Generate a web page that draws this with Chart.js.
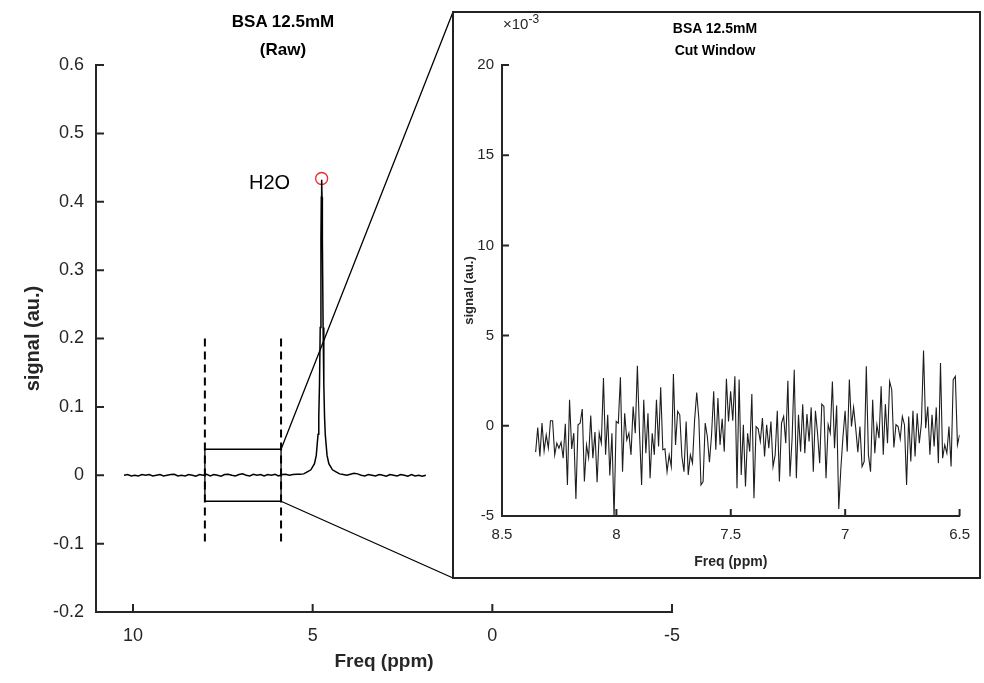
<!DOCTYPE html>
<html lang="en">
<head>
<meta charset="UTF-8">
<title>BSA 12.5mM - Raw and Cut Window</title>
<script src="https://cdn.jsdelivr.net/npm/chart.js"></script>
<style>
  body { margin: 0; background: #fff; font-family: 'Liberation Sans', Arial, sans-serif; color: #000; }
  #wrap { position: relative; width: 984px; height: 683px; overflow: hidden; }
  canvas { position: absolute; }
  #mainChart { left: 0; top: 0; }
  .label { position: absolute; white-space: nowrap; }
  #mainTitle { left: 183px; top: 8px; width: 200px; text-align: center; font-weight: bold; font-size: 17px; line-height: 28px; }
  #h2o { left: 249px; top: 171px; font-size: 20px; }
  #insetFrame { position: absolute; left: 452px; top: 11px; width: 529px; height: 568px; box-sizing: border-box; border: 2px solid #222; background: #fff; }
  #insetChart { left: 453px; top: 12px; }
  #insetTitle { left: 615px; top: 17px; width: 200px; text-align: center; font-weight: bold; font-size: 14px; line-height: 22px; }
  #scaleNote { left: 503px; top: 12px; font-size: 15px; color: #262626; }
  #scaleNote sup { font-size: 12px; }
</style>
</head>
<body>
<div id="wrap">
  <canvas id="mainChart" width="984" height="683"></canvas>
  <div class="label" id="mainTitle">BSA 12.5mM<br>(Raw)</div>
  <div class="label" id="h2o">H2O</div>
  <div id="insetFrame"></div>
  <canvas id="insetChart" width="527" height="566"></canvas>
  <div class="label" id="insetTitle">BSA 12.5mM<br>Cut Window</div>
  <div class="label" id="scaleNote">&times;10<sup>-3</sup></div>
</div>

<script>
// ---- raw spectrum (ppm, au.) ----
const mainPpm = [
  10.25, 10.15, 10.05, 9.95, 9.85, 9.75, 9.65, 9.55, 9.45, 9.35,
  9.25, 9.15, 9.05, 8.95, 8.85, 8.75, 8.65, 8.55, 8.45, 8.35,
  8.25, 8.15, 8.05, 7.95, 7.85, 7.75, 7.65, 7.55, 7.45, 7.35,
  7.25, 7.15, 7.05, 6.95, 6.85, 6.75, 6.65, 6.55, 6.45, 6.35,
  6.25, 6.15, 6.05, 5.95, 5.85, 5.75, 5.65, 5.55, 5.45, 5.35,
  5.25, 5.15, 5.05, 4.95, 4.9, 4.85, 4.83, 4.81, 4.79, 4.77,
  4.76, 4.75, 4.74, 4.73, 4.71, 4.69, 4.67, 4.65, 4.6, 4.55,
  4.45, 4.35,
  4.25, 4.15, 4.05, 3.95, 3.85, 3.75, 3.65, 3.55, 3.45, 3.35,
  3.25, 3.15, 3.05, 2.95, 2.85, 2.75, 2.65, 2.55, 2.45, 2.35,
  2.25, 2.15, 2.05, 1.95, 1.85
];
const mainSignal = [
  0.000, 0.001, -0.001, 0.000, -0.001, 0.001, 0.000, 0.001, -0.001, 0.000,
  0.001, -0.001, 0.000, 0.001, 0.0015, -0.001, 0.000, -0.001, 0.001, 0.000,
  -0.0015, 0.001, 0.000, 0.0015, -0.001, 0.001, 0.000, -0.0015, 0.001, 0.0015,
  0.000, -0.001, 0.001, 0.002, 0.000, -0.001, 0.0015, 0.000, 0.001, -0.001,
  0.001, 0.000, 0.0015, -0.001, 0.001, 0.0015, 0.000, 0.001, 0.0015, 0.0015,
  0.002, 0.005, 0.008, 0.017, 0.029, 0.060, 0.086, 0.133, 0.216, 0.346,
  0.407, 0.432, 0.407, 0.346, 0.216, 0.133, 0.086, 0.060, 0.029, 0.017,
  0.008, 0.005,
  0.002, 0.001, 0.000, 0.0015, 0.003, 0.002, 0.000, -0.001, 0.001, 0.000,
  -0.001, 0.001, 0.000, -0.0015, 0.001, 0.000, -0.001, 0.001, 0.000, -0.0015,
  0.001, -0.001, 0.000, -0.0015, 0.000
];
const peakPpm = [4.75];
const peakSignal = [0.434];
const cutLeftPpm = 8.0;
const cutRightPpm = 5.88;
const cutHalfHeight = 0.038;
const markerTop = 0.2;
const markerBottom = -0.1;

const mainXTicks = [10, 5, 0, -5];
const mainXLabels = ['10', '5', '0', '-5'];
const mainYTicks = [-0.2, -0.1, 0, 0.1, 0.2, 0.3, 0.4, 0.5, 0.6];
const mainYLabels = ['-0.2', '-0.1', '0', '0.1', '0.2', '0.3', '0.4', '0.5', '0.6'];

// ---- cut window (ppm 8.35 .. 6.5), signal in units of 1e-3 ----
const cutStartPpm = 8.353;
const cutEndPpm = 6.5;
const cutSignalE3 = [
  -1.46, -0.09, -1.70, 0.15, -1.39, -0.50, -1.24, 0.28, 0.28, -1.61,
  -0.96, -1.24, -0.91, -1.80, 0.11, -3.28, 1.44, -1.28, -0.41, -4.06,
  0.06, 0.15, 0.93, -3.09, -1.06, -1.76, 0.57, -1.80, -0.35, -3.13,
  -0.41, -0.96, 2.65, -1.61, 0.61, -2.76, -0.41, -5.10, 0.24, 0.15,
  2.69, -2.54, 0.70, -0.78, -0.41, -1.61, 1.07, -0.41, 3.33, -0.35,
  -3.28, 1.44,
  -1.52, 0.70, -2.91, -0.41, -1.61, 1.44, -1.15, 2.13, -1.33, -1.28,
  -2.54, -1.61, -2.26, 2.87, -1.06, 0.80, 0.61, -1.70, -2.54, 0.24,
  -2.72, -1.61, -2.07, 0.33, 1.85, 0.39, -3.28, -3.09, 0.15, -0.59,
  -2.02, -0.50, 1.91, -1.33, 1.54, -1.06, 0.39, -1.43, 2.61, 0.24,
  1.91, 0.28, 2.74, -3.46, 2.56, -2.72, 0.06, -3.37, -0.41, -1.43,
  1.76, -4.02,
  -0.04, -0.17, -0.87, 0.43, -1.70, 0.06, -1.24, 0.24, -2.26, -1.61,
  0.83, -3.09, 0.15, 0.52, -0.96, 2.50, -2.81, -0.69, 3.11, -2.91,
  0.61, -1.43, 1.20, -1.52, 0.65, -0.87, 1.02, -2.54, 0.83, -0.41,
  -2.07, 1.20, 1.07, -2.91, 0.06, -0.41, 2.46, -1.24, 1.13, -4.61,
  -2.35, -0.59, 0.83, -1.43, 2.56, -0.04,
  1.02, -0.13, -1.46, -0.04, -2.26, -1.98, 3.30, -1.61, -2.54, 1.44,
  -1.52, 0.06, -0.69, 2.19, -1.61, 1.20, -0.96, 2.46, 2.00, -1.20,
  0.06, -0.04, -0.72, 0.52, 0.06, -3.28, 0.52, -1.98, 0.83, -1.70,
  0.70, -0.96, 0.15, 4.17, -0.13, 1.07, -1.61, 0.61, -1.15, 1.02,
  -2.07, 3.48, -1.80, -1.06, -1.52, -0.04, -2.26, 2.56, 2.74, -1.06,
  -0.50
];
const insetXTicks = [8.5, 8, 7.5, 7, 6.5];
const insetXLabels = ['8.5', '8', '7.5', '7', '6.5'];
const insetYTicks = [-5, 0, 5, 10, 15, 20];
const insetYLabels = ['-5', '0', '5', '10', '15', '20'];

const FONT = "'Liberation Sans', Arial, sans-serif";
const AXIS_COLOR = '#262626';

// MATLAB style: tick marks pointing into the plot
const inwardTicks = {
  id: 'inwardTicks',
  afterDraw(chart, args, opts) {
    const { ctx, chartArea, scales: { x, y } } = chart;
    ctx.save();
    ctx.strokeStyle = AXIS_COLOR;
    ctx.lineWidth = opts.width || 2;
    ctx.beginPath();
    x.ticks.forEach(t => {
      const px = x.getPixelForValue(t.value);
      ctx.moveTo(px, chartArea.bottom);
      ctx.lineTo(px, chartArea.bottom - opts.len);
    });
    y.ticks.forEach(t => {
      const py = y.getPixelForValue(t.value);
      ctx.moveTo(chartArea.left, py);
      ctx.lineTo(chartArea.left + opts.len, py);
    });
    ctx.stroke();
    ctx.restore();
  }
};

// lines from the cut box to the corners of the inset frame
const zoomLines = {
  id: 'zoomLines',
  afterDraw(chart) {
    const { ctx, scales: { x, y } } = chart;
    const frame = document.getElementById('insetFrame');
    const fx = frame.offsetLeft + 1;
    const fy1 = frame.offsetTop + 1;
    const fy2 = frame.offsetTop + frame.offsetHeight - 1;
    const bx = x.getPixelForValue(cutRightPpm);
    ctx.save();
    ctx.strokeStyle = '#000';
    ctx.lineWidth = 1.3;
    ctx.beginPath();
    ctx.moveTo(bx, y.getPixelForValue(cutHalfHeight));
    ctx.lineTo(fx, fy1);
    ctx.moveTo(bx, y.getPixelForValue(-cutHalfHeight));
    ctx.lineTo(fx, fy2);
    ctx.stroke();
    ctx.restore();
  }
};

function fixedTicks(values) {
  return scale => { scale.ticks = values.map(v => ({ value: v })); };
}

// main chart
const spectrum = mainPpm.map((p, i) => ({ x: p, y: mainSignal[i] }));
const cutBox = [
  { x: cutLeftPpm, y: cutHalfHeight }, { x: cutRightPpm, y: cutHalfHeight },
  { x: cutRightPpm, y: -cutHalfHeight }, { x: cutLeftPpm, y: -cutHalfHeight },
  { x: cutLeftPpm, y: cutHalfHeight }
];

new Chart(document.getElementById('mainChart'), {
  type: 'line',
  data: {
    datasets: [
      { data: spectrum, borderColor: '#000', borderWidth: 1.5, pointRadius: 0, tension: 0 },
      { data: [{ x: cutLeftPpm, y: markerTop }, { x: cutLeftPpm, y: markerBottom }],
        borderColor: '#000', borderWidth: 2, borderDash: [8, 5], pointRadius: 0 },
      { data: [{ x: cutRightPpm, y: markerTop }, { x: cutRightPpm, y: markerBottom }],
        borderColor: '#000', borderWidth: 2, borderDash: [8, 5], pointRadius: 0 },
      { data: cutBox, borderColor: '#000', borderWidth: 1.3, pointRadius: 0 },
      { data: peakPpm.map((p, i) => ({ x: p, y: peakSignal[i] })), showLine: false,
        pointRadius: 6, pointBorderColor: '#e8282b', pointBackgroundColor: 'rgba(0,0,0,0)', pointBorderWidth: 1.3 }
    ]
  },
  options: {
    responsive: false,
    animation: false,
    layout: { padding: { top: 65, right: 312, left: 0, bottom: 0 } },
    plugins: { legend: { display: false }, tooltip: { enabled: false }, inwardTicks: { len: 8, width: 2 } },
    scales: {
      x: {
        type: 'linear', reverse: true, min: -5, max: 11.03,
        afterBuildTicks: fixedTicks(mainXTicks),
        afterFit: s => { s.height = 71; },
        grid: { display: true, drawOnChartArea: false, drawTicks: false },
        border: { color: AXIS_COLOR, width: 2 },
        ticks: { padding: 13, color: AXIS_COLOR, font: { family: FONT, size: 18 },
                 callback: v => mainXLabels[mainXTicks.indexOf(v)] },
        title: { display: true, text: 'Freq (ppm)', color: AXIS_COLOR,
                 font: { family: FONT, size: 19, weight: 'bold' }, padding: { top: 0, bottom: 10 } }
      },
      y: {
        type: 'linear', min: -0.2, max: 0.6,
        afterBuildTicks: fixedTicks(mainYTicks),
        afterFit: s => { s.width = 96; },
        grid: { display: true, drawOnChartArea: false, drawTicks: false },
        border: { color: AXIS_COLOR, width: 2 },
        ticks: { padding: 12, color: AXIS_COLOR, font: { family: FONT, size: 18 },
                 callback: v => mainYLabels[mainYTicks.indexOf(v)] },
        title: { display: true, text: 'signal (au.)', color: AXIS_COLOR,
                 font: { family: FONT, size: 20, weight: 'bold' }, padding: { top: 21, bottom: 0 } }
      }
    }
  },
  plugins: [inwardTicks, zoomLines]
});

// inset chart
const cutStep = (cutStartPpm - cutEndPpm) / (cutSignalE3.length - 1);
const cutTrace = cutSignalE3.map((v, i) => ({ x: cutStartPpm - i * cutStep, y: v }));

new Chart(document.getElementById('insetChart'), {
  type: 'line',
  data: {
    datasets: [
      { data: cutTrace, borderColor: '#1e1e1e', borderWidth: 1.1, pointRadius: 0, tension: 0 }
    ]
  },
  options: {
    responsive: false,
    animation: false,
    layout: { padding: { top: 53, right: 16, left: 0, bottom: 0 } },
    plugins: { legend: { display: false }, tooltip: { enabled: false }, inwardTicks: { len: 7, width: 2 } },
    scales: {
      x: {
        type: 'linear', reverse: true, min: 6.5, max: 8.5,
        afterBuildTicks: fixedTicks(insetXTicks),
        afterFit: s => { s.height = 62; },
        grid: { display: true, drawOnChartArea: false, drawTicks: false },
        border: { color: AXIS_COLOR, width: 2 },
        ticks: { padding: 10, color: AXIS_COLOR, font: { family: FONT, size: 15 },
                 callback: v => insetXLabels[insetXTicks.indexOf(v)] },
        title: { display: true, text: 'Freq (ppm)', color: AXIS_COLOR,
                 font: { family: FONT, size: 14, weight: 'bold' }, padding: { top: 0, bottom: 7 } }
      },
      y: {
        type: 'linear', min: -5, max: 20,
        afterBuildTicks: fixedTicks(insetYTicks),
        afterFit: s => { s.width = 49; },
        grid: { display: true, drawOnChartArea: false, drawTicks: false },
        border: { color: AXIS_COLOR, width: 2 },
        ticks: { padding: 8, color: AXIS_COLOR, font: { family: FONT, size: 15 },
                 callback: v => insetYLabels[insetYTicks.indexOf(v)] },
        title: { display: true, text: 'signal (au.)', color: AXIS_COLOR,
                 font: { family: FONT, size: 13, weight: 'bold' }, padding: { top: 9, bottom: 0 } }
      }
    }
  },
  plugins: [inwardTicks]
});
</script>
</body>
</html>
